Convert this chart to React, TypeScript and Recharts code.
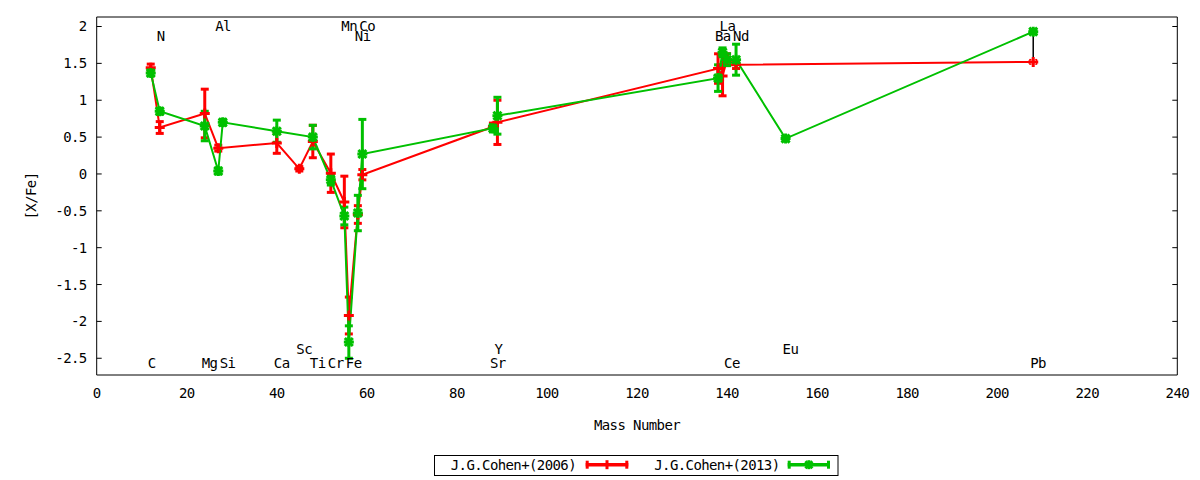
import { ComposedChart, Line, Scatter, XAxis, YAxis, ErrorBar, Legend } from 'recharts';

document.body.style.margin = '0';

const ELEMENTS = ['C', 'N', 'Mg', 'Al', 'Si', 'Ca', 'Sc', 'Ti', 'Cr', 'Mn', 'Fe', 'Ni', 'Co', 'Sr', 'Y', 'Ba', 'La', 'Ce', 'Nd', 'Eu', 'Pb'];
const MASS = [12, 14, 24, 27, 28, 40, 45, 48, 52, 55, 56, 58, 59, 88, 89, 138, 139, 140, 142, 153, 208];

// [X/Fe] from J.G.Cohen+(2006), null = not measured
const COHEN06 = [1.44, 0.63, 0.82, 0.35, null, 0.42, 0.07, 0.44, 0.01, -0.38, -1.92, -0.55, -0.01, 0.64, 0.7, 1.43, 1.33, 1.55, 1.48, null, 1.52];
const COHEN06_ERR = [0.05, 0.08, 0.33, 0.04, null, 0.14, 0.03, 0.22, 0.26, 0.35, 0.25, 0.12, 0.07, 0.05, 0.3, 0.2, 0.27, 0.08, 0.05, null, 0.02];

// [X/Fe] from J.G.Cohen+(2013)
const COHEN13 = [1.37, 0.85, 0.65, 0.04, 0.7, 0.58, null, 0.5, -0.08, -0.57, -2.28, -0.53, 0.27, 0.62, 0.79, 1.3, 1.65, 1.55, 1.55, 0.48, 1.93];
const COHEN13_ERR = [0.04, 0.04, 0.2, 0.04, 0.04, 0.15, null, 0.16, 0.07, 0.12, 0.22, 0.24, 0.47, 0.05, 0.25, 0.18, 0.06, 0.08, 0.21, 0.03, 0.03];

// Pb range drawn in black
const PB_RANGE = [{ x: 208, y: 1.52, e: [0.06, 0.44] }];

// where each element name sits
const LABEL_Y = [-2.57, 1.87, -2.57, 2.01, -2.57, -2.57, -2.38, -2.57, -2.57, 2.01, -2.57, 1.87, 2.01, -2.57, -2.38, 1.87, 2.01, -2.57, 1.87, -2.38, -2.57];

const X_TICKS = [0, 20, 40, 60, 80, 100, 120, 140, 160, 180, 200, 220, 240];
const Y_TICKS = [-2.5, -2, -1.5, -1, -0.5, 0, 0.5, 1, 1.5, 2];
const X_DOMAIN = [0, 240];
const Y_DOMAIN = [-2.727, 2.129];

const RED = '#ff0000';
const GREEN = '#00c000';
const FONT = '"DejaVu Sans Mono", monospace';

function series(values: (number | null)[], errs: (number | null)[]) {
  return MASS.map((x, i) => ({ x, y: values[i], e: errs[i] })).filter((d) => d.y !== null);
}

const red = series(COHEN06, COHEN06_ERR);
const green = series(COHEN13, COHEN13_ERR);
const labels = ELEMENTS.map((name, i) => ({ name, x: MASS[i], y: LABEL_Y[i] }));

const PlusDot = (props: any) => {
  const { cx, cy, index } = props;
  if (cx == null || cy == null) return <g key={index} />;
  return (
    <g key={index} stroke={RED} strokeWidth={3}>
      <line x1={cx - 5} x2={cx + 5} y1={cy} y2={cy} />
      <line x1={cx} x2={cx} y1={cy - 5} y2={cy + 5} />
    </g>
  );
};

const StarDot = (props: any) => {
  const { cx, cy, index } = props;
  if (cx == null || cy == null) return <g key={index} />;
  return (
    <g key={index} stroke={GREEN} strokeWidth={3}>
      <line x1={cx - 5} x2={cx + 5} y1={cy} y2={cy} />
      <line x1={cx} x2={cx} y1={cy - 5} y2={cy + 5} />
      <line x1={cx - 4} x2={cx + 4} y1={cy - 4} y2={cy + 4} />
      <line x1={cx - 4} x2={cx + 4} y1={cy + 4} y2={cy - 4} />
    </g>
  );
};

const ElementLabel = (props: any) => (
  <text x={props.cx - 3} y={props.cy} dy="0.36em" fontSize={14} fill="#000" letterSpacing={-0.6} fontFamily={FONT}>
    {props.payload.name}
  </text>
);

const NoTick = () => <g />;

const XLabel = (props: any) => {
  const { x, y, width } = props.viewBox;
  return (
    <text x={x + width / 2} y={y + 55} textAnchor="middle" fontSize={14} fill="#000" letterSpacing={-0.6} fontFamily={FONT}>
      Mass Number
    </text>
  );
};

const YLabel = (props: any) => {
  const { y, height } = props.viewBox;
  const cx = 36;
  const cy = y + height / 2;
  return (
    <text x={cx} y={cy} textAnchor="middle" fontSize={14} fill="#000" letterSpacing={-0.6} fontFamily={FONT} transform={`rotate(-90 ${cx} ${cy})`}>
      [X/Fe]
    </text>
  );
};

function LegendSample({ x1, x2, y, color, star }: { x1: number; x2: number; y: number; color: string; star?: boolean }) {
  const mid = (x1 + x2) / 2;
  return (
    <g stroke={color}>
      <line x1={x1} x2={x2} y1={y} y2={y} strokeWidth={3.5} />
      <line x1={x1 + 1.5} x2={x1 + 1.5} y1={y - 4} y2={y + 4} strokeWidth={3} />
      <line x1={x2 - 1.5} x2={x2 - 1.5} y1={y - 4} y2={y + 4} strokeWidth={3} />
      <line x1={mid} x2={mid} y1={y - 4.5} y2={y + 4.5} strokeWidth={3} />
      {star ? (
        <>
          <line x1={mid - 3.5} x2={mid + 3.5} y1={y - 3.5} y2={y + 3.5} strokeWidth={3} />
          <line x1={mid - 3.5} x2={mid + 3.5} y1={y + 3.5} y2={y - 3.5} strokeWidth={3} />
        </>
      ) : null}
    </g>
  );
}

const renderLegend = () => (
  <svg width={405} height={21} style={{ display: 'block', fontFamily: FONT }}>
    <rect x={0.5} y={0.5} width={403.5} height={20} fill="#fff" stroke="#000" />
    <text x={142} y={15} textAnchor="end" fontSize={14} letterSpacing={-0.6} fill="#000">
      J.G.Cohen+(2006)
    </text>
    <LegendSample x1={151.7} x2={194.3} y={9.7} color={RED} />
    <text x={345.5} y={15} textAnchor="end" fontSize={14} letterSpacing={-0.6} fill="#000">
      J.G.Cohen+(2013)
    </text>
    <LegendSample x1={353.7} x2={396} y={9.7} color={GREEN} star />
  </svg>
);

export default function App() {
  return (
    <ComposedChart
      width={1200}
      height={480}
      margin={{ top: 17, right: 22.7, bottom: 45, left: 0 }}
      style={{ fontFamily: FONT, background: '#fff' }}
    >
      <XAxis
        xAxisId="b"
        dataKey="x"
        type="number"
        domain={X_DOMAIN}
        ticks={X_TICKS}
        allowDataOverflow
        height={60}
        tickSize={0}
        tickMargin={13}
        tickLine={false}
        axisLine={{ stroke: '#000' }}
        tick={{ fontSize: 14, fill: '#000', letterSpacing: -0.6 }}
        label={<XLabel />}
      />
      <XAxis xAxisId="bm" type="number" domain={X_DOMAIN} ticks={X_TICKS} allowDataOverflow mirror tickSize={5} tick={<NoTick />} tickLine={{ stroke: '#000' }} axisLine={false} />
      <XAxis xAxisId="t" orientation="top" type="number" domain={X_DOMAIN} ticks={X_TICKS} allowDataOverflow mirror tickSize={5} tick={<NoTick />} tickLine={{ stroke: '#000' }} axisLine={{ stroke: '#000' }} />
      <YAxis
        yAxisId="l"
        dataKey="y"
        type="number"
        domain={Y_DOMAIN}
        ticks={Y_TICKS}
        allowDataOverflow
        width={96.7}
        tickSize={0}
        tickMargin={10}
        tickLine={false}
        axisLine={{ stroke: '#000' }}
        tick={{ fontSize: 14, fill: '#000', letterSpacing: -0.6 }}
        label={<YLabel />}
      />
      <YAxis yAxisId="lm" type="number" domain={Y_DOMAIN} ticks={Y_TICKS} allowDataOverflow mirror tickSize={5} tick={<NoTick />} tickLine={{ stroke: '#000' }} axisLine={false} />
      <YAxis yAxisId="r" orientation="right" type="number" domain={Y_DOMAIN} ticks={Y_TICKS} allowDataOverflow mirror tickSize={5} tick={<NoTick />} tickLine={{ stroke: '#000' }} axisLine={{ stroke: '#000' }} />

      <Line xAxisId="b" yAxisId="l" data={PB_RANGE} dataKey="y" stroke="none" dot={false} activeDot={false} isAnimationActive={false} legendType="none">
        <ErrorBar dataKey="e" direction="y" width={0} strokeWidth={1.5} stroke="#000" />
      </Line>
      <Line
        xAxisId="b"
        yAxisId="l"
        data={red}
        dataKey="y"
        name="J.G.Cohen+(2006)"
        stroke={RED}
        strokeWidth={2}
        dot={PlusDot}
        activeDot={false}
        isAnimationActive={false}
      >
        <ErrorBar dataKey="e" direction="y" width={4} strokeWidth={3} stroke={RED} />
      </Line>
      <Line
        xAxisId="b"
        yAxisId="l"
        data={green}
        dataKey="y"
        name="J.G.Cohen+(2013)"
        stroke={GREEN}
        strokeWidth={2}
        dot={StarDot}
        activeDot={false}
        isAnimationActive={false}
      >
        <ErrorBar dataKey="e" direction="y" width={4} strokeWidth={3} stroke={GREEN} />
      </Line>
      <Scatter xAxisId="b" yAxisId="l" data={labels} dataKey="y" shape={ElementLabel} isAnimationActive={false} legendType="none" />
      <Legend
        verticalAlign="middle"
        align="center"
        layout="horizontal"
        content={renderLegend}
        wrapperStyle={{ top: 455, left: 434, width: 405, height: 21 }}
      />
    </ComposedChart>
  );
}
